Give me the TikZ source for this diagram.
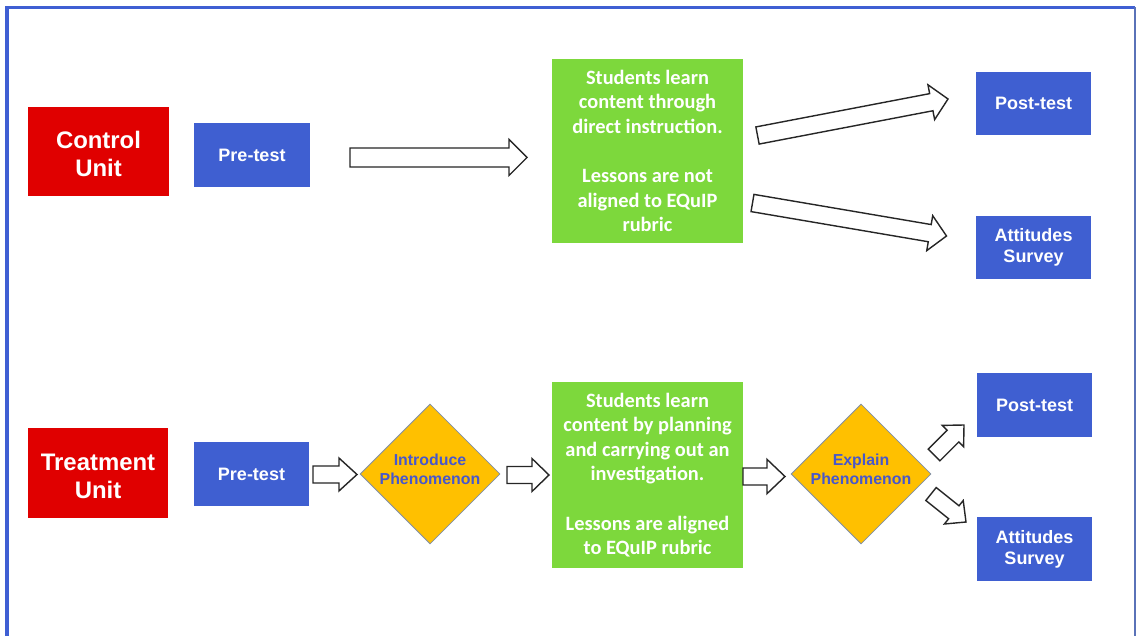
\documentclass[tikz,border=0pt]{standalone}
\usepackage{fontspec}
\setmainfont{Liberation Sans}
\newfontfamily\calib{Carlito}
\usetikzlibrary{calc,shapes.geometric}
\definecolor{fblue}{HTML}{3F5FD3}
\definecolor{fright}{HTML}{5A72B8}
\definecolor{cred}{HTML}{E00000}
\definecolor{bblue}{HTML}{3F5FD1}
\definecolor{cgreen}{HTML}{7DD83C}
\definecolor{cyellow}{HTML}{FFC000}
\definecolor{dtext}{HTML}{4757CC}
\definecolor{dborder}{HTML}{7F8FAA}
\newcommand{\lift}[2]{\raisebox{#1}[\height][\depth]{\begin{tabular}{@{}c@{}}#2\end{tabular}}}
\tikzset{
  unitbox/.style={fill=cred, text=white, align=center, inner sep=0pt,
    font=\fontsize{17}{19.8}\selectfont\bfseries,
    minimum width=3.5cm, minimum height=2.24cm},
  bluebox/.style={fill=bblue, text=white, align=center, inner sep=0pt,
    font=\fontsize{12.8}{15}\selectfont\bfseries,
    minimum width=2.89cm, minimum height=1.59cm},
  greenbox/.style={fill=cgreen, text=white, align=center, inner sep=0pt,
    font=\calib\fontsize{14.5}{17.5}\selectfont\bfseries,
    minimum width=4.775cm},
  phen/.style={diamond, aspect=1, fill=cyellow, draw=dborder, line width=0.6pt,
    text=dtext, align=center, inner sep=0pt,
    font=\fontsize{11.3}{13.5}\selectfont\bfseries,
    minimum width=3.5cm, minimum height=3.5cm},
  blockarrow/.style={draw=black!85, fill=white, line width=1pt, line join=miter}
}
% tail, tip, shaft half-width, head half-width, head length
\newcommand{\barrow}[5]{%
  \path ($(#2)!#5!(#1)$) coordinate (ba);
  \draw[blockarrow] ($(#1)!#3!90:(#2)$) -- ($(ba)!#3!90:(#2)$) -- ($(ba)!#4!90:(#2)$)
    -- (#2) -- ($(ba)!#4!-90:(#2)$) -- ($(ba)!#3!-90:(#2)$) -- ($(#1)!#3!-90:(#2)$) -- cycle;}
\begin{document}
\begin{tikzpicture}[x=0.025cm, y=-0.025cm]
\useasboundingbox (0,0) rectangle (1138,636);
% frame
\draw[fblue, line width=2.4pt] (7,640) -- (7,7.5) -- (1135,7.5);
\draw[fright, line width=1.2pt] (1135,7.5) -- (1135,640);

% control row
\node[unitbox] (cu) at (98.5,151.5) {\lift{-3.9pt}{Control\\Unit}};
\node[bluebox] (pre1) at (252,155) {Pre-test};
\node[greenbox, minimum height=4.6cm] (g1) at (647.5,151) {Students learn\\content through\\direct instruction.\\[17.5pt]Lessons are not\\aligned to EQuIP\\rubric};
\node[bluebox] (post1) at (1033.5,103.5) {Post-test};
\node[bluebox] (att1) at (1033.5,247.5) {Attitudes\\Survey};

\coordinate (c1t) at (350,157.5);  \coordinate (c1h) at (527,157.5);
\coordinate (c2t) at (757.5,135.5); \coordinate (c2h) at (948,99);
\coordinate (c3t) at (752.5,203);  \coordinate (c3h) at (946.5,236);
\barrow{c1t}{c1h}{6.76pt}{12.8pt}{12.8pt}
\barrow{c2t}{c2h}{6.2pt}{12.6pt}{12.1pt}
\barrow{c3t}{c3h}{6.2pt}{12.6pt}{12.1pt}

% treatment row
\node[unitbox] (tu) at (98,473) {\lift{-4.3pt}{Treatment\\Unit}};
\node[bluebox] (pre2) at (251.5,474) {Pre-test};
\node[phen] (intro) at (430,474) {\lift{2.1pt}{Introduce\\Phenomenon}};
\node[greenbox, minimum height=4.65cm] (g2) at (647.5,475) {Students learn\\content by planning\\and carrying out an\\investigation.\\[17.5pt]Lessons are aligned\\to EQuIP rubric};
\node[phen] (expl) at (861,474) {\lift{2.1pt}{Explain\\Phenomenon}};
\node[bluebox] (post2) at (1034.5,405) {Post-test};
\node[bluebox] (att2) at (1034.5,549) {Attitudes\\Survey};

\coordinate (t1t) at (313,474.5); \coordinate (t1h) at (357,474.5);
\coordinate (t2t) at (507,475);   \coordinate (t2h) at (549,475);
\coordinate (t3t) at (743,476.5); \coordinate (t3h) at (785,476.5);
\coordinate (t4t) at (934,455);   \coordinate (t4h) at (964,425);
\coordinate (t5t) at (931,494);   \coordinate (t5h) at (966,522);
\barrow{t1t}{t1h}{6.05pt}{11.7pt}{12.8pt}
\barrow{t2t}{t2h}{6.05pt}{11.7pt}{12.1pt}
\barrow{t3t}{t3h}{6.05pt}{12.2pt}{12.8pt}
\barrow{t4t}{t4h}{5.9pt}{10.7pt}{11.1pt}
\barrow{t5t}{t5h}{5.9pt}{10.7pt}{11.1pt}
\end{tikzpicture}
\end{document}
